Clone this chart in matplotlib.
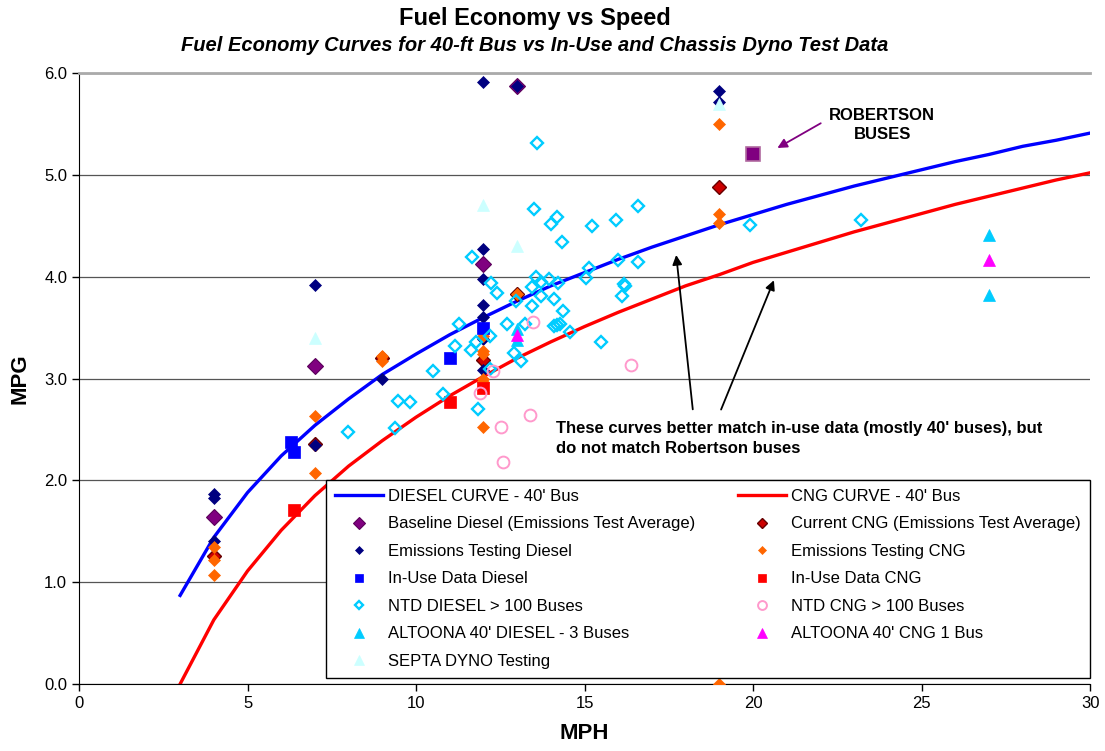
import matplotlib
matplotlib.use("Agg")
import matplotlib.pyplot as plt

plt.rcParams["font.family"] = ["Liberation Sans", "DejaVu Sans"]

# fitted fuel economy curves, 40-ft bus
curve_mph = [3, 4, 5, 6, 7, 8, 9, 10, 11, 12, 13, 14, 15, 16, 17, 18, 19, 20,
             21, 22, 23, 24, 25, 26, 27, 28, 29, 30]
diesel_curve = [0.87, 1.44, 1.88, 2.24, 2.54, 2.80, 3.04, 3.24, 3.43, 3.60, 3.76,
                3.91, 4.04, 4.17, 4.29, 4.40, 4.51, 4.61, 4.71, 4.80, 4.89, 4.97,
                5.05, 5.13, 5.20, 5.28, 5.34, 5.41]
cng_curve = [0.00, 0.63, 1.11, 1.51, 1.85, 2.14, 2.39, 2.62, 2.83, 3.02, 3.20,
             3.36, 3.51, 3.65, 3.78, 3.91, 4.02, 4.14, 4.24, 4.34, 4.44, 4.53,
             4.62, 4.71, 4.79, 4.87, 4.95, 5.02]

# measured data
baseline_mph = [4, 7, 12, 13]
baseline_mpg = [1.64, 3.12, 4.12, 5.87]

current_cng_mph = [4, 7, 9, 12, 13, 19]
current_cng_mpg = [1.26, 2.36, 3.20, 3.18, 3.83, 4.88]

emis_diesel_mph = [4, 4, 4, 7, 7, 9, 12, 12, 12, 12, 12, 12, 12, 13, 19, 19]
emis_diesel_mpg = [1.87, 1.83, 1.40, 3.92, 2.35, 3.00, 5.91, 4.27, 3.98, 3.72,
                   3.60, 3.39, 3.08, 5.87, 5.82, 5.72]

emis_cng_mph = [4, 4, 4, 7, 7, 9, 9, 12, 12, 12, 12, 12, 12, 13, 19, 19, 19, 19]
emis_cng_mpg = [1.35, 1.22, 1.07, 2.63, 2.07, 3.22, 3.17, 3.42, 3.27, 3.24, 3.00,
                2.97, 2.52, 3.83, 5.50, 4.62, 4.53, 0.00]

inuse_diesel_mph = [6.29, 6.38, 11.0, 12.0]
inuse_diesel_mpg = [2.38, 2.28, 3.20, 3.50]

inuse_cng_mph = [6.38, 11.0, 12.0]
inuse_cng_mpg = [1.71, 2.77, 2.91]

ntd_diesel_mph = [13.58, 13.50, 14.01, 14.19, 15.23, 15.92, 16.60, 14.34, 11.67,
                  12.22, 12.41, 12.97, 13.43, 13.57, 13.72, 13.96, 14.22, 13.70,
                  13.45, 14.10, 14.36, 11.28, 12.70, 13.24, 14.08, 14.18, 14.28,
                  15.13, 15.05, 16.00, 16.60, 16.17, 16.20, 16.11, 15.49, 14.56,
                  11.17, 11.64, 11.79, 12.19, 10.49, 10.81, 11.84, 12.91, 13.12,
                  7.97, 9.46, 9.82, 9.37, 19.90, 23.20, 12.18]
ntd_diesel_mpg = [5.31, 4.66, 4.52, 4.59, 4.50, 4.56, 4.69, 4.34, 4.19,
                  3.94, 3.84, 3.76, 3.90, 4.00, 3.95, 3.98, 3.94, 3.81,
                  3.71, 3.78, 3.66, 3.54, 3.54, 3.54, 3.52, 3.53, 3.54,
                  4.09, 3.99, 4.16, 4.14, 3.93, 3.91, 3.81, 3.36, 3.46,
                  3.32, 3.28, 3.36, 3.42, 3.07, 2.85, 2.70, 3.25, 3.17,
                  2.47, 2.78, 2.77, 2.51, 4.51, 4.56, 3.09]

ntd_cng_mph = [13.47, 12.28, 11.91, 13.37, 12.51, 12.58, 16.37]
ntd_cng_mpg = [3.55, 3.07, 2.86, 2.64, 2.52, 2.18, 3.13]

altoona_diesel_mph = [13, 13, 27, 27]
altoona_diesel_mpg = [3.49, 3.38, 4.41, 3.82]

altoona_cng_mph = [13, 27]
altoona_cng_mpg = [3.43, 4.16]

septa_mph = [7, 12, 13, 19]
septa_mpg = [3.40, 4.70, 4.30, 5.70]

robertson_mph = [20]
robertson_mpg = [5.20]

fig = plt.figure(figsize=(11.05, 7.51), dpi=100)
ax = fig.add_axes([0.0715, 0.0892, 0.915, 0.8136])

ax.plot(curve_mph, diesel_curve, color="#0000FF", lw=2.4, label="DIESEL CURVE - 40' Bus", zorder=2)
ax.plot(curve_mph, cng_curve, color="#FF0000", lw=2.4, label="CNG CURVE - 40' Bus", zorder=2)

def pts(x, y, label, **kw):
    return ax.plot(x, y, linestyle="none", label=label, zorder=3, **kw)[0]

pts(baseline_mph, baseline_mpg, "Baseline Diesel (Emissions Test Average)",
    marker="D", ms=7.8, mfc="#800080", mec="#5a005a", mew=0.8)
pts(current_cng_mph, current_cng_mpg, "Current CNG (Emissions Test Average)",
    marker="D", ms=7.2, mfc="#CC0000", mec="#660000", mew=1.0)
pts(emis_diesel_mph, emis_diesel_mpg, "Emissions Testing Diesel",
    marker="D", ms=6.0, mfc="#000080", mec="#000080", mew=0.5)
pts(emis_cng_mph, emis_cng_mpg, "Emissions Testing CNG",
    marker="D", ms=6.0, mfc="#FF6600", mec="#FF6600", mew=0.5)
pts(inuse_diesel_mph, inuse_diesel_mpg, "In-Use Data Diesel",
    marker="s", ms=8.2, mfc="#0000FF", mec="#0000FF", mew=0.5)
pts(inuse_cng_mph, inuse_cng_mpg, "In-Use Data CNG",
    marker="s", ms=8.2, mfc="#FF0000", mec="#FF0000", mew=0.5)
pts(ntd_diesel_mph, ntd_diesel_mpg, "NTD DIESEL > 100 Buses",
    marker="D", ms=6.0, mfc="none", mec="#00CCFF", mew=1.7)
pts(ntd_cng_mph, ntd_cng_mpg, "NTD CNG > 100 Buses",
    marker="o", ms=8.5, mfc="none", mec="#FF99CC", mew=1.4)
pts(altoona_diesel_mph, altoona_diesel_mpg, "ALTOONA 40' DIESEL - 3 Buses",
    marker="^", ms=9, mfc="#00CCFF", mec="#00CCFF", mew=0.5)
pts(altoona_cng_mph, altoona_cng_mpg, "ALTOONA 40' CNG 1 Bus",
    marker="^", ms=9, mfc="#FF00FF", mec="#FF00FF", mew=0.5)
pts(septa_mph, septa_mpg, "SEPTA DYNO Testing",
    marker="^", ms=9, mfc="#CCFFFF", mec="#CCFFFF", mew=0.5)
ax.plot(robertson_mph, robertson_mpg, linestyle="none", marker="s", ms=9.5,
        mfc="#800080", mec="#b06aa0", mew=1.2, zorder=3)

ax.set_xlim(0, 30)
ax.set_ylim(0, 6)
ax.set_xticks(range(0, 31, 5))
ax.set_yticks([0, 1, 2, 3, 4, 5, 6])
ax.set_yticklabels([f"{v:.1f}" for v in range(7)])
ax.tick_params(labelsize=12, direction="out", length=5, width=1, color="black")
ax.yaxis.grid(True, color="#555555", lw=0.9)
ax.set_axisbelow(True)
ax.spines["right"].set_visible(False)
ax.spines["top"].set_color("#aaaaaa")
ax.spines["top"].set_linewidth(2)
ax.spines["left"].set_color("black")
ax.spines["bottom"].set_color("black")

ax.set_xlabel("MPH", fontsize=16, fontweight="bold", labelpad=9)
ax.set_ylabel("MPG", fontsize=16, fontweight="bold", labelpad=10)

fig.text(0.484, 0.976, "Fuel Economy vs Speed", ha="center", va="center",
         fontsize=17, fontweight="bold")
fig.text(0.484, 0.939, "Fuel Economy Curves for 40-ft Bus vs In-Use and Chassis Dyno Test Data",
         ha="center", va="center", fontsize=14.5, fontweight="bold", style="italic")

# callouts
ax.text(23.83, 5.49, "ROBERTSON\nBUSES", ha="center", va="center",
        fontsize=12, fontweight="bold", linespacing=1.3)
ax.annotate("", xy=(20.65, 5.25), xytext=(22.08, 5.52),
            arrowprops=dict(arrowstyle="-|>", color="#800080", lw=1.3, mutation_scale=14))
ax.text(14.15, 2.41, "These curves better match in-use data (mostly 40' buses), but\ndo not match Robertson buses",
        ha="left", va="center", fontsize=12, fontweight="bold", linespacing=1.4)
ax.annotate("", xy=(17.71, 4.24), xytext=(18.22, 2.67),
            arrowprops=dict(arrowstyle="-|>", color="black", lw=1.3, mutation_scale=14))
ax.annotate("", xy=(20.65, 3.99), xytext=(19.02, 2.67),
            arrowprops=dict(arrowstyle="-|>", color="black", lw=1.3, mutation_scale=14))

handles, labels = ax.get_legend_handles_labels()
order = [0, 2, 4, 6, 8, 10, 12, 1, 3, 5, 7, 9, 11]
leg = ax.legend([handles[i] for i in order], [labels[i] for i in order],
                ncol=2, loc="lower left", mode="expand",
                bbox_to_anchor=(0.244, 0.0098, 0.756, 0.322), borderaxespad=0,
                fontsize=12, frameon=True, fancybox=False, edgecolor="black",
                framealpha=1, borderpad=0.55, labelspacing=0.75, handlelength=2.9,
                handletextpad=0.3, markerscale=0.75)
leg.get_frame().set_linewidth(1.0)
leg.set_zorder(5)

fig.savefig("out.png", dpi=100)
